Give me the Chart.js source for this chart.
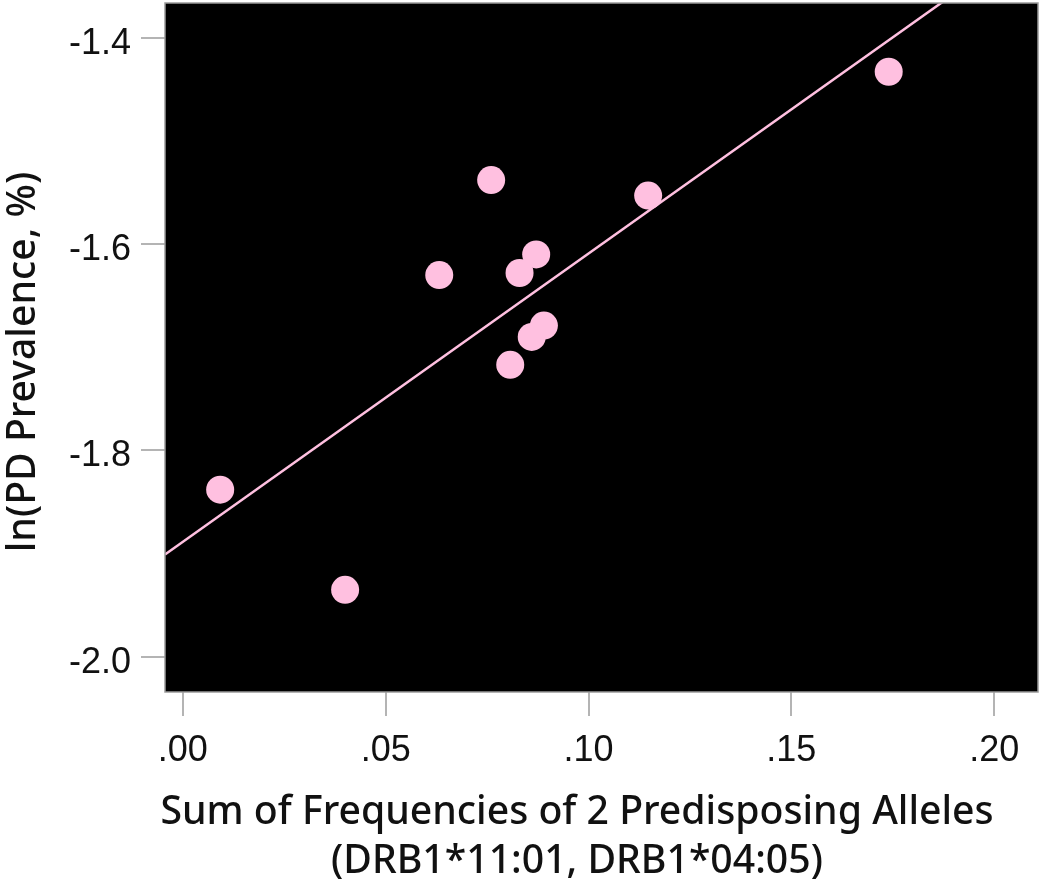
<!DOCTYPE html>
<html>
<head>
<meta charset="utf-8">
<script src="https://cdn.jsdelivr.net/npm/chart.js@4/dist/chart.umd.min.js"></script>
<style>
  html, body { margin: 0; padding: 0; background: #ffffff; }
  #wrap { width: 1050px; height: 879px; }
</style>
</head>
<body>
<div id="wrap"><canvas id="c" width="1050" height="879"></canvas></div>
<script>
// ---- data ----
const alleleFreq = [0.0760, 0.1147, 0.0871, 0.0830, 0.0632, 0.0890, 0.0860, 0.0807, 0.0092, 0.0400, 0.1740];
const lnPrevalence = [-1.538, -1.553, -1.610, -1.628, -1.630, -1.679, -1.690, -1.717, -1.838, -1.935, -1.433];
const xTicks = [0.00, 0.05, 0.10, 0.15, 0.20];
const yTicks = [-2.0, -1.8, -1.6, -1.4];
const xRange = [-0.0044, 0.2108];
const yRange = [-2.034, -1.3664];
const xTitle = ['Sum of Frequencies of 2 Predisposing Alleles', '(DRB1*11:01, DRB1*04:05)'];
const yTitle = 'ln(PD Prevalence, %)';

// least-squares fit line from the data
const n = alleleFreq.length;
const mx = alleleFreq.reduce((a, b) => a + b, 0) / n;
const my = lnPrevalence.reduce((a, b) => a + b, 0) / n;
let sxy = 0, sxx = 0;
for (let i = 0; i < n; i++) { sxy += (alleleFreq[i] - mx) * (lnPrevalence[i] - my); sxx += (alleleFreq[i] - mx) ** 2; }
const slope = sxy / sxx;
const intercept = my - slope * mx;
const fitLine = xRange.map(x => ({ x: x, y: intercept + slope * x }));

const points = alleleFreq.map((x, i) => ({ x: x, y: lnPrevalence[i] }));

const PINK = 'rgb(255,192,224)';
const TITLE_FAMILY = '"Noto Sans", "DejaVu Sans", sans-serif';
const TITLE_WIDTH = 833; // width of the first x-title line in the reference

const bgPlugin = {
  id: 'bg',
  beforeDatasetsDraw(chart) {
    const { ctx, chartArea: a } = chart;
    ctx.save();
    ctx.fillStyle = '#000000';
    ctx.fillRect(a.left, a.top, a.right - a.left, a.bottom - a.top);
    ctx.restore();
  },
  afterDatasetsDraw(chart) {
    const { ctx, chartArea: a } = chart;
    ctx.save();
    ctx.strokeStyle = '#9a9a9a';
    ctx.lineWidth = 1.5;
    ctx.strokeRect(a.left, a.top, a.right - a.left, a.bottom - a.top);
    ctx.restore();
  },
  afterDraw(chart) {
    const { ctx } = chart;
    ctx.save();
    ctx.fillStyle = '#111111';
    ctx.font = '500 37px ' + TITLE_FAMILY;
    const w = ctx.measureText(xTitle[0]).width;
    const size = Math.min(41, 37 * TITLE_WIDTH / w);
    ctx.font = '500 ' + size.toFixed(1) + 'px ' + TITLE_FAMILY;
    ctx.textAlign = 'center';
    ctx.textBaseline = 'alphabetic';
    ctx.fillText(xTitle[0], 577, 824);
    ctx.fillText(xTitle[1], 577, 873);
    ctx.translate(35, 362);
    ctx.rotate(-Math.PI / 2);
    ctx.fillText(yTitle, 0, 0);
    ctx.restore();
  }
};

new Chart(document.getElementById('c'), {
  type: 'scatter',
  data: {
    datasets: [
      {
        type: 'line',
        data: fitLine,
        borderColor: PINK,
        borderWidth: 2.5,
        pointRadius: 0,
        fill: false,
        clip: 0,
        order: 2
      },
      {
        data: points,
        backgroundColor: PINK,
        borderWidth: 0,
        pointRadius: 14,
        pointHoverRadius: 14,
        order: 1
      }
    ]
  },
  options: {
    responsive: false,
    animation: false,
    devicePixelRatio: 1,
    layout: { autoPadding: false, padding: { top: 3, right: 12, left: 0, bottom: 0 } },
    plugins: { legend: { display: false }, tooltip: { enabled: false } },
    scales: {
      x: {
        type: 'linear',
        min: xRange[0],
        max: xRange[1],
        afterFit(s) { s.height = 187; s.paddingLeft = 0; s.paddingRight = 0; },
        afterBuildTicks(s) { s.ticks = xTicks.map(v => ({ value: v })); },
        border: { display: false },
        grid: { drawOnChartArea: false, drawTicks: true, tickLength: 24, color: '#b4b4b4', lineWidth: 2 },
        ticks: {
          padding: 13,
          color: '#111111',
          font: { family: '"Liberation Sans", Arial, sans-serif', size: 36 },
          callback: v => v.toFixed(2).replace(/^0/, '')
        }
      },
      y: {
        type: 'linear',
        min: yRange[0],
        max: yRange[1],
        afterFit(s) { s.width = 165; s.paddingTop = 0; s.paddingBottom = 0; },
        afterBuildTicks(s) { s.ticks = yTicks.map(v => ({ value: v })); },
        border: { display: false },
        grid: { drawOnChartArea: false, drawTicks: true, tickLength: 24, color: '#b4b4b4', lineWidth: 2 },
        ticks: {
          padding: 10,
          labelOffset: 6,
          color: '#111111',
          font: { family: '"Liberation Sans", Arial, sans-serif', size: 36 },
          callback: v => v.toFixed(1)
        }
      }
    }
  },
  plugins: [bgPlugin]
});
</script>
</body>
</html>
